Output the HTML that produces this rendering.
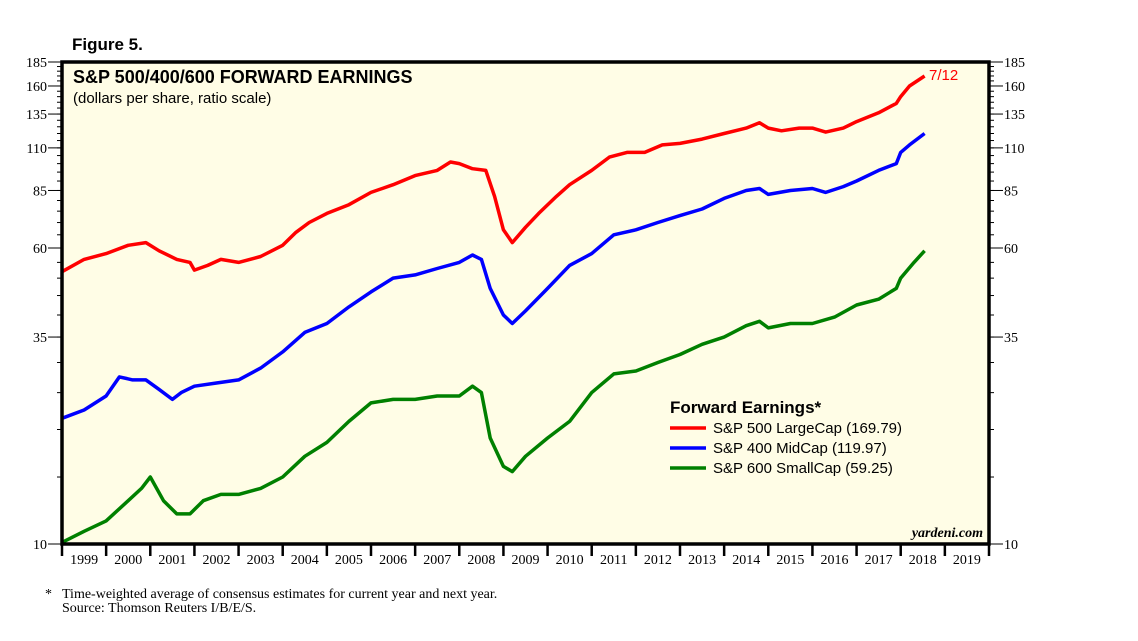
<!DOCTYPE html>
<html><head><meta charset="utf-8"><style>
body{margin:0;background:#fff;}
svg{display:block;font-family:"Liberation Serif",serif;}
.s{font-family:"Liberation Sans",sans-serif;}
</style></head><body>
<svg id="chart" width="1138" height="641" viewBox="0 0 1138 641">
<text x="72" y="50" class="s" font-size="17" font-weight="bold">Figure 5.</text>
<rect x="62" y="62" width="927" height="482" fill="#fffde6"/>
<g id="axes"></g>
<g id="series"></g>
<rect x="62" y="62" width="927" height="482" fill="none" stroke="#000" stroke-width="3.5"/>
<text x="73" y="83" class="s" font-size="18" font-weight="bold">S&amp;P 500/400/600 FORWARD EARNINGS</text>
<text x="73" y="103" class="s" font-size="15">(dollars per share, ratio scale)</text>
<text x="929" y="80" class="s" font-size="15" fill="#ff0000">7/12</text>
<g>
<text x="670" y="413" class="s" font-size="17" font-weight="bold">Forward Earnings*</text>
<line x1="670" y1="428" x2="706" y2="428" stroke="#ff0000" stroke-width="3.5"/>
<text x="713" y="433" class="s" font-size="15">S&amp;P 500 LargeCap (169.79)</text>
<line x1="670" y1="448" x2="706" y2="448" stroke="#0000ff" stroke-width="3.5"/>
<text x="713" y="453" class="s" font-size="15">S&amp;P 400 MidCap (119.97)</text>
<line x1="670" y1="468" x2="706" y2="468" stroke="#008000" stroke-width="3.5"/>
<text x="713" y="473" class="s" font-size="15">S&amp;P 600 SmallCap (59.25)</text>
</g>
<text x="983" y="537" font-size="14" font-weight="bold" font-style="italic" text-anchor="end">yardeni.com</text>
<text x="45" y="598" font-size="14">*</text>
<text x="62" y="598" font-size="14">Time-weighted average of consensus estimates for current year and next year.</text>
<text x="62" y="612" font-size="14">Source: Thomson Reuters I/B/E/S.</text>
</svg>
<script>
const years = [1999,2000,2001,2002,2003,2004,2005,2006,2007,2008,2009,2010,2011,2012,2013,2014,2015,2016,2017,2018,2019];
const yTicks = [10,35,60,85,110,135,160,185];
const sp500T = [1999.0,1999.5,2000.0,2000.5,2000.9,2001.2,2001.6,2001.9,2002.0,2002.3,2002.6,2003.0,2003.5,2004.0,2004.3,2004.6,2005.0,2005.5,2006.0,2006.5,2007.0,2007.5,2007.8,2008.0,2008.3,2008.6,2008.8,2009.0,2009.2,2009.5,2009.8,2010.2,2010.5,2011.0,2011.4,2011.8,2012.2,2012.6,2013.0,2013.5,2014.0,2014.5,2014.8,2015.0,2015.3,2015.7,2016.0,2016.3,2016.7,2017.0,2017.5,2017.9,2018.0,2018.2,2018.54];
const sp500V = [52,56,58,61,62,59,56,55,52.5,54,56,55,57,61,66,70,74,78,84,88,93,96,101,100,97,96,82,67,62,68,74,82,88,96,104,107,107,112,113,116,120,124,128,124,122,124,124,121,124,129,136,144,150,160,170];
const sp400T = [1999.0,1999.5,2000.0,2000.3,2000.6,2000.9,2001.2,2001.5,2001.7,2002.0,2002.5,2003.0,2003.5,2004.0,2004.5,2005.0,2005.5,2006.0,2006.5,2007.0,2007.5,2008.0,2008.3,2008.5,2008.7,2009.0,2009.2,2009.5,2010.0,2010.5,2011.0,2011.5,2012.0,2012.5,2013.0,2013.5,2014.0,2014.5,2014.8,2015.0,2015.5,2016.0,2016.3,2016.7,2017.0,2017.5,2017.9,2018.0,2018.2,2018.54];
const sp400V = [21.4,22.5,24.5,27.5,27,27,25.5,24,25,26,26.5,27,29,32,36,38,42,46,50,51,53,55,57.5,56,47,40,38,41,47,54,58,65,67,70,73,76,81,85,86,83,85,86,84,87,90,96,100,107,112,120];
const sp600T = [1999.0,1999.5,2000.0,2000.5,2000.8,2001.0,2001.3,2001.6,2001.9,2002.2,2002.6,2003.0,2003.5,2004.0,2004.5,2005.0,2005.5,2006.0,2006.5,2007.0,2007.5,2008.0,2008.3,2008.5,2008.7,2009.0,2009.2,2009.5,2010.0,2010.5,2011.0,2011.5,2012.0,2012.5,2013.0,2013.5,2014.0,2014.5,2014.8,2015.0,2015.5,2016.0,2016.5,2017.0,2017.5,2017.9,2018.0,2018.3,2018.54];
const sp600V = [10.1,10.8,11.5,13,14,15,13,12,12,13,13.5,13.5,14,15,17,18.5,21,23.5,24,24,24.5,24.5,26,25,19,16,15.5,17,19,21,25,28,28.5,30,31.5,33.5,35,37.5,38.5,37,38,38,39.5,42.5,44,47,50,55,59];

const L=62,R=989,T=62,B=544,NS="http://www.w3.org/2000/svg";
const x = t => L + (t-1999)*(R-L)/21;
const y = v => B - (B-T)*Math.log(v/10)/Math.log(18.5);
const axes=document.getElementById('axes'), ser=document.getElementById('series');
function mk(tag,attrs,parent){const e=document.createElementNS(NS,tag);for(const k in attrs)e.setAttribute(k,attrs[k]);parent.appendChild(e);return e;}
for(let v=15;v<185;v+=5){
  const l1=mk('line',{x1:L-5,x2:L,y1:y(v),y2:y(v),stroke:'#000','stroke-width':1},axes);
  
  
  const l2=mk('line',{x1:R,x2:R+5,y1:y(v),y2:y(v),stroke:'#000','stroke-width':1},axes);
  
  
}
yTicks.forEach(v=>{
  const a=mk('line',{x1:L-14,x2:L,y1:y(v),y2:y(v),stroke:'#000','stroke-width':1},axes);
  
  
  const b=mk('line',{x1:R,x2:R+14,y1:y(v),y2:y(v),stroke:'#000','stroke-width':1},axes);
  
  
  const t1=mk('text',{x:L-15,y:y(v)+5,'font-size':14,'text-anchor':'end'},axes);
  t1.textContent=v;
  
  
  const t2=mk('text',{x:R+15,y:y(v)+5,'font-size':14},axes);
  t2.textContent=v;
  
  
});
years.forEach(yr=>{
  const tk=mk('line',{x1:x(yr),x2:x(yr),y1:B,y2:B+12,stroke:'#000','stroke-width':2.5},axes);
  
  
  const t=mk('text',{x:x(yr+0.5),y:B+20,'font-size':14,'text-anchor':'middle'},axes);
  t.textContent=yr;
  
  
});
const tk=mk('line',{x1:x(2020),x2:x(2020),y1:B,y2:B+12,stroke:'#000','stroke-width':2.5},axes);


function line(ts,vs,color,name){
  const d=ts.map((t,i)=>(i?'L':'M')+x(t).toFixed(1)+','+y(vs[i]).toFixed(1)).join('');
  const p=mk('path',{d:d,fill:'none',stroke:color,'stroke-width':3.5,'stroke-linejoin':'round'},ser);
  
  
}
line(sp500T,sp500V,'#ff0000','sp500-line');
line(sp400T,sp400V,'#0000ff','sp400-line');
line(sp600T,sp600V,'#008000','sp600-line');
</script>
</body></html>
